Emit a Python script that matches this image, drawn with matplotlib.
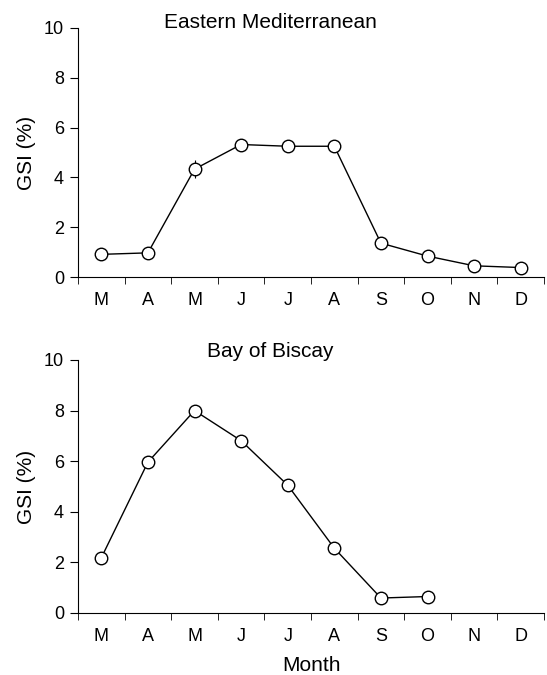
import numpy as np
import matplotlib
matplotlib.use('Agg')
import matplotlib.pyplot as plt

months = ['M', 'A', 'M', 'J', 'J', 'A', 'S', 'O', 'N', 'D']
gsi_med = [0.91, 0.97, 4.33, 5.32, 5.25, 5.25, 1.36, 0.84, 0.45, 0.38]
err_med = [0.05, 0.05, 0.35, 0.12, 0.05, 0.10, 0.12, 0.05, 0.05, 0.03]
gsi_bis = [2.18, 5.96, 8.0, 6.81, 5.05, 2.56, 0.59, 0.65]
titles = ['Eastern Mediterranean', 'Bay of Biscay']

plt.rcParams['font.family'] = ['Liberation Sans', 'DejaVu Sans']
plt.rcParams['font.size'] = 13

fig = plt.figure(figsize=(5.47, 6.75), dpi=100)
ax1 = fig.add_axes([0.1426, 0.5896, 0.852, 0.369])
ax2 = fig.add_axes([0.1426, 0.0919, 0.852, 0.3748])

def style(ax):
  for s in ['top', 'right']:
    ax.spines[s].set_visible(False)
  ax.set_xlim(-0.5, len(months) - 0.5)
  ax.set_ylim(0, 10)
  ax.set_yticks(np.arange(0, 11, 2))
  ax.set_xticks(np.arange(len(months)))
  ax.set_xticklabels(months)
  ax.set_xticks(np.arange(len(months) + 1) - 0.5, minor=True)
  ax.tick_params(axis='x', which='major', length=0, pad=11, labelsize=13)
  ax.tick_params(axis='x', which='minor', length=5, direction='out')
  ax.tick_params(axis='y', length=6, direction='out', pad=4, labelsize=13)
  ax.set_ylabel('GSI (%)', fontsize=15, labelpad=6)

x1 = np.arange(len(gsi_med))
ax1.errorbar(x1, gsi_med, yerr=err_med, color='black', lw=1, ecolor='black',
             elinewidth=0.8, capsize=0, marker='o', ms=9, mfc='white',
             mec='black', mew=1, zorder=3, clip_on=False)
x2 = np.arange(len(gsi_bis))
ax2.plot(x2, gsi_bis, color='black', lw=1, marker='o', ms=9, mfc='white',
         mec='black', mew=1, zorder=3, clip_on=False)

style(ax1)
style(ax2)
ax1.text(0.412, 1.0, titles[0], transform=ax1.transAxes, ha='center',
         va='baseline', fontsize=15)
ax2.text(0.412, 1.012, titles[1], transform=ax2.transAxes, ha='center',
         va='baseline', fontsize=15)
ax2.set_xlabel('Month', fontsize=15, labelpad=8)

plt.savefig('out.png', dpi=100)
